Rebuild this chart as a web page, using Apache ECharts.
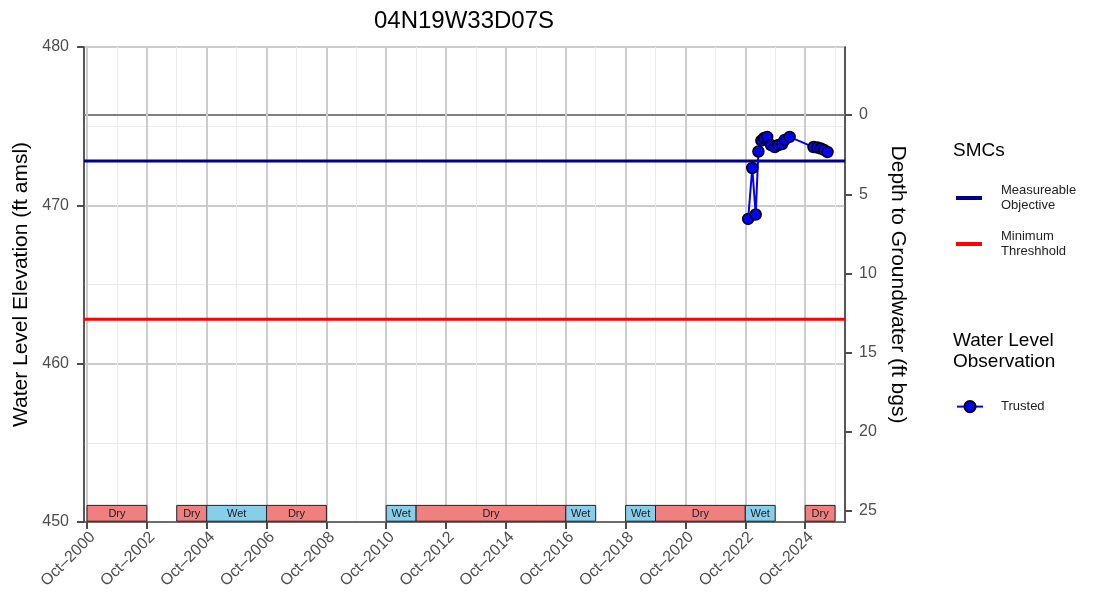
<!DOCTYPE html>
<html>
<head>
<meta charset="utf-8">
<title>04N19W33D07S</title>
<script src="https://cdn.jsdelivr.net/npm/echarts@6/dist/echarts.min.js"></script>
<style>
  html, body { margin: 0; padding: 0; background: #fff; }
  #chart { width: 1097px; height: 599px; }
</style>
</head>
<body>
<div id="chart"></div>
<script>
// well observations (water level elevation, ft amsl)
const obsDates = [
  '2022-11-05', '2022-12-25', '2023-02-05', '2023-03-10', '2023-04-15', '2023-05-20',
  '2023-06-25', '2023-08-10', '2023-09-25', '2023-11-10', '2023-12-25', '2024-01-25',
  '2024-03-25', '2025-01-10', '2025-02-25', '2025-04-10', '2025-05-20', '2025-07-01'
];
const obsElev = [
  469.14, 472.36, 469.42, 473.40, 474.09, 474.25,
  474.32, 473.81, 473.68, 473.81, 473.87, 474.13,
  474.32, 473.68, 473.65, 473.59, 473.50, 473.37
];

// sustainable management criteria
const measurableObjective = 472.8;
const minimumThreshold = 462.8;
const groundSurface = 475.7;

// water year types
const periodStart = ['2000-10-01', '2003-10-01', '2004-10-01', '2006-10-01', '2010-10-01', '2011-10-01',
                     '2016-10-01', '2018-10-01', '2019-10-01', '2022-10-01', '2024-10-01'];
const periodEnd   = ['2002-10-01', '2004-10-01', '2006-10-01', '2008-10-01', '2011-10-01', '2016-10-01',
                     '2017-10-01', '2019-10-01', '2022-10-01', '2023-10-01', '2025-10-01'];
const periodType  = ['Dry', 'Dry', 'Wet', 'Dry', 'Wet', 'Dry', 'Wet', 'Wet', 'Dry', 'Wet', 'Dry'];

// axes
const xMin = '2000-08-25';
const xMax = '2026-01-30';
const xMajorTicks = ['2000-10-01', '2002-10-01', '2004-10-01', '2006-10-01', '2008-10-01', '2010-10-01', '2012-10-01',
                     '2014-10-01', '2016-10-01', '2018-10-01', '2020-10-01', '2022-10-01', '2024-10-01'];
const xMinorTicks = ['2001-10-01', '2003-10-01', '2005-10-01', '2007-10-01', '2009-10-01', '2011-10-01',
                     '2013-10-01', '2015-10-01', '2017-10-01', '2019-10-01', '2021-10-01', '2023-10-01', '2025-10-01'];
const depthTicks = [0, 5, 10, 15, 20, 25];

const periodColors = { Dry: '#F08080', Wet: '#87CEEB' };
const toTime = s => +echarts.time.parse(s);
const months = ['Jan','Feb','Mar','Apr','May','Jun','Jul','Aug','Sep','Oct','Nov','Dec'];

const chart = echarts.init(document.getElementById('chart'), null, { renderer: 'canvas' });

const tMin = toTime(xMin);
const tMax = toTime(xMax);
const periodData = periodStart.map((s, i) => [toTime(s), toTime(periodEnd[i])]);
const axisGray = '#4d4d4d';
const font = 'Liberation Sans, Arial, sans-serif';

const option = {
  animation: false,
  textStyle: { fontFamily: font },
  title: [
    { text: '04N19W33D07S', left: 459, top: 4, textAlign: 'center',
      textStyle: { fontSize: 24, fontWeight: 'normal', color: '#000' } },
    { text: 'SMCs', left: 948, top: 136,
      textStyle: { fontSize: 19, fontWeight: 'normal', color: '#000' } },
    { text: 'Water Level\nObservation', left: 948, top: 325,
      textStyle: { fontSize: 19, fontWeight: 'normal', color: '#000', lineHeight: 21 } }
  ],
  legend: [
    {
      data: [{ name: 'Measureable Objective', icon: 'rect' }, { name: 'Minimum Threshhold', icon: 'rect' }],
      orient: 'vertical', left: 951, top: 178,
      itemWidth: 26, itemHeight: 4, itemGap: 16,
      formatter: n => n.replace(' ', '\n'),
      textStyle: { fontSize: 13, color: '#222', lineHeight: 15, padding: [0, 0, 0, 14] }
    },
    {
      data: ['Trusted'],
      orient: 'vertical', left: 951, top: 395,
      itemWidth: 26, itemHeight: 14,
      textStyle: { fontSize: 13, color: '#222', padding: [0, 0, 0, 13] }
    }
  ],
  grid: { left: 84, right: 252, top: 47, bottom: 77, show: true, borderColor: '#4d4d4d', borderWidth: 1.5 },
  xAxis: [
    {
      type: 'value', min: tMin, max: tMax,
      axisLine: { show: true, onZero: false, lineStyle: { color: axisGray, width: 1.5 } },
      axisTick: { show: true, length: 7, lineStyle: { color: axisGray, width: 2 },
                  customValues: xMajorTicks.map(toTime) },
      axisLabel: {
        customValues: xMajorTicks.map(toTime),
        rotate: 45, fontSize: 16, color: axisGray, margin: 7, align: 'right', verticalAlign: 'top',
        formatter: v => { const d = new Date(v); return months[d.getMonth()] + '\u2013' + d.getFullYear(); }
      },
      splitLine: { show: true, lineStyle: { color: '#cccccc', width: 2 } },
      z: 3
    },
    {
      type: 'value', min: tMin, max: tMax, position: 'bottom',
      axisLine: { show: false, onZero: false }, axisLabel: { show: false, customValues: xMinorTicks.map(toTime) },
      axisTick: { show: false, customValues: xMinorTicks.map(toTime) },
      splitLine: { show: true, lineStyle: { color: '#ebebeb', width: 1 } }
    }
  ],
  yAxis: [
    {
      type: 'value', min: 450, max: 480, interval: 10,
      name: 'Water Level Elevation (ft amsl)', nameLocation: 'middle', nameGap: 50,
      nameTextStyle: { fontSize: 21, color: '#000' },
      axisLine: { show: true, onZero: false, lineStyle: { color: axisGray, width: 1.5 } },
      axisTick: { show: true, length: 7, lineStyle: { color: axisGray, width: 2 } },
      axisLabel: { fontSize: 16, color: axisGray, margin: 15 },
      splitLine: { show: true, lineStyle: { color: '#cccccc', width: 2 } },
      minorTick: { show: false, splitNumber: 2 },
      minorSplitLine: { show: true, lineStyle: { color: '#ebebeb', width: 1 } }
    },
    {
      type: 'value', position: 'right', inverse: true,
      min: groundSurface - 480, max: groundSurface - 450,
      name: 'Depth to Groundwater (ft bgs)', nameLocation: 'middle', nameGap: 40, nameRotate: -90,
      nameTextStyle: { fontSize: 21, color: '#000' },
      axisLine: { show: true, onZero: false, lineStyle: { color: axisGray, width: 1.5 } },
      axisTick: { show: true, length: 7, lineStyle: { color: axisGray, width: 2 }, customValues: depthTicks },
      axisLabel: { fontSize: 16, color: axisGray, margin: 14, customValues: depthTicks },
      splitLine: { show: false }
    }
  ],
  series: [
    {
      name: 'Ground Surface', type: 'line', symbol: 'none', silent: true,
      data: [[tMin, groundSurface], [tMax, groundSurface]],
      lineStyle: { color: '#7f7f7f', width: 2 }, z: 2
    },
    {
      name: 'Measureable Objective', type: 'line', symbol: 'none',
      data: [[tMin, measurableObjective], [tMax, measurableObjective]],
      lineStyle: { color: '#00008B', width: 3 }, itemStyle: { color: '#00008B' }, z: 3
    },
    {
      name: 'Minimum Threshhold', type: 'line', symbol: 'none',
      data: [[tMin, minimumThreshold], [tMax, minimumThreshold]],
      lineStyle: { color: '#FF0000', width: 3 }, itemStyle: { color: '#FF0000' }, z: 3
    },
    {
      name: 'Water Year Type', type: 'custom',
      encode: { x: [0, 1] },
      data: periodData,
      renderItem: (params, api) => {
        const type = periodType[params.dataIndex];
        const p0 = api.coord([api.value(0), 451.05]);
        const p1 = api.coord([api.value(1), 450.05]);
        return {
          type: 'group',
          children: [
            { type: 'rect',
              shape: { x: p0[0], y: p0[1], width: p1[0] - p0[0], height: p1[1] - p0[1] },
              style: { fill: periodColors[type], stroke: '#222', lineWidth: 1 } },
            { type: 'text',
              style: { x: (p0[0] + p1[0]) / 2, y: (p0[1] + p1[1]) / 2 + 1, text: type,
                       align: 'center', verticalAlign: 'middle', fontSize: 11, fill: '#1a1a1a',
                       fontFamily: font } }
          ]
        };
      },
      z: 4
    },
    {
      name: 'Trusted', type: 'line',
      data: obsDates.map((d, i) => [toTime(d), obsElev[i]]),
      symbol: 'circle', symbolSize: 11,
      lineStyle: { color: '#0000FF', width: 2 },
      itemStyle: { color: '#0000FF', borderColor: '#000', borderWidth: 1.5 },
      z: 5
    }
  ]
};

chart.setOption(option);
</script>
</body>
</html>
